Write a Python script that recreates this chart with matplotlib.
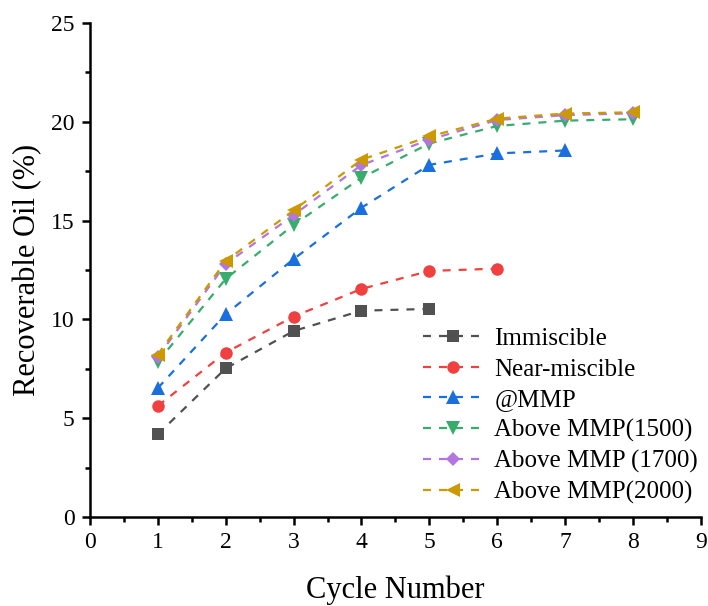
import matplotlib
matplotlib.use("Agg")
import matplotlib.pyplot as plt
from matplotlib.ticker import MultipleLocator

plt.rcParams['font.family'] = ['Liberation Serif', 'DejaVu Serif']
plt.rcParams['mathtext.fontset'] = 'stix'

cycles_immiscible = [1, 2, 3, 4, 5]
immiscible = [4.18, 7.52, 9.41, 10.44, 10.53]
cycles_near = [1, 2, 3, 4, 5, 6]
near_miscible = [5.62, 8.32, 10.14, 11.54, 12.45, 12.57]
cycles_mmp = [1, 2, 3, 4, 5, 6, 7]
at_mmp = [6.52, 10.26, 13.05, 15.65, 17.82, 18.40, 18.55]
cycles_above = [1, 2, 3, 4, 5, 6, 7, 8]
above_1500 = [7.85, 12.05, 14.78, 17.17, 18.90, 19.79, 20.06, 20.13]
above_1700 = [8.10, 12.80, 15.28, 17.81, 19.10, 20.09, 20.34, 20.43]
above_2000 = [8.22, 12.95, 15.52, 18.08, 19.26, 20.16, 20.42, 20.48]

labels = ["Immiscible", "Near-miscible", "@MMP", "Above MMP(1500)",
          "Above MMP (1700)", "Above MMP(2000)"]
colors = ["#515151", "#F14040", "#1A6FDF", "#37AD6B", "#B177DE", "#CC9900"]
markers = ["s", "o", "^", "v", "D", "<"]
msizes = [8.5, 9, 10, 10, 7.5, 10]

series = [(cycles_immiscible, immiscible), (cycles_near, near_miscible),
          (cycles_mmp, at_mmp), (cycles_above, above_1500),
          (cycles_above, above_1700), (cycles_above, above_2000)]

fig = plt.figure(figsize=(7.08, 6.06), dpi=100)
ax = fig.add_axes([0.127, 0.147, 0.863, 0.815])

for (x, y), lab, c, m, ms in zip(series, labels, colors, markers, msizes):
    ax.plot(x, y, linestyle=(0, (3.6, 3.6)), lw=1.6, color=c, marker=m,
            markersize=ms, markeredgewidth=0, label=lab)

ax.set_xlim(0, 9)
ax.set_ylim(0, 25)
ax.xaxis.set_major_locator(MultipleLocator(1))
ax.xaxis.set_minor_locator(MultipleLocator(0.5))
ax.yaxis.set_major_locator(MultipleLocator(5))
ax.yaxis.set_minor_locator(MultipleLocator(2.5))

for s in ['top', 'right']:
    ax.spines[s].set_visible(False)
for s in ['left', 'bottom']:
    ax.spines[s].set_linewidth(1.8)

ax.tick_params(which='major', direction='out', length=6, width=1.8,
               labelsize=17, pad=5)
ax.tick_params(which='minor', direction='out', length=3.5, width=1.8)

ax.set_xlabel("Cycle Number", fontsize=22, labelpad=16)
ax.set_ylabel("Recoverable Oil (%)", fontsize=22, labelpad=6)

leg = ax.legend(loc='lower right', frameon=False, fontsize=18,
                handlelength=2.4, handletextpad=0.45, labelspacing=0.32,
                borderaxespad=0.1, bbox_to_anchor=(1.016, 0.0))

fig.savefig("out.png", dpi=100)
